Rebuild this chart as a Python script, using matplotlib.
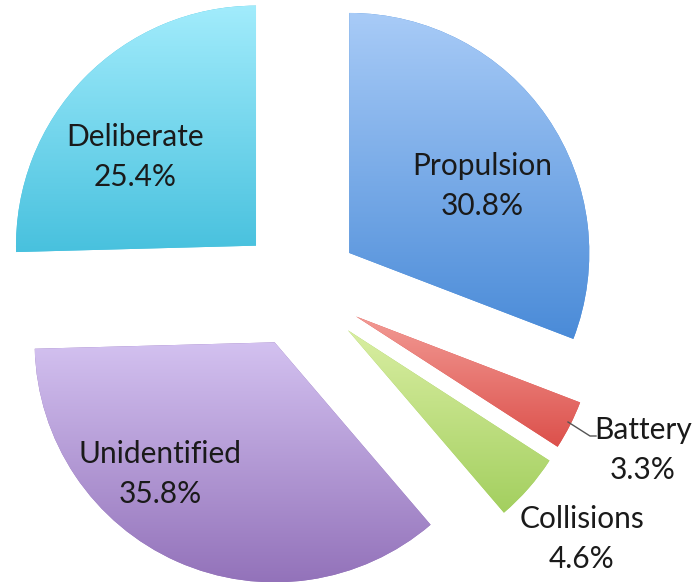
import matplotlib
matplotlib.use("Agg")
import matplotlib.pyplot as plt
import numpy as np
from matplotlib.colors import LinearSegmentedColormap

# ---- data ----
categories = ["Propulsion", "Battery", "Collisions", "Unidentified", "Deliberate"]
values = [30.8, 3.3, 4.6, 35.8, 25.4]
pct_labels = ["30.8%", "3.3%", "4.6%", "35.8%", "25.4%"]

# ---- style ----
top_colors = ["#a8cbf7", "#f29a94", "#d9eea2", "#d3c1f0", "#a2ecfc"]
bot_colors = ["#4a8bd8", "#dc504b", "#a3cf5f", "#9271b9", "#48c1de"]
explode = [61, 64, 65, 60, 60]          # pixels (data units)
label_pos = [(482, 186), (643, 450), (582, 539), (160, 474), (135, 157)]
FONT = ["Lato", "DejaVu Sans"]
FS = 21.5

W, H = 696, 582
fig = plt.figure(figsize=(W / 100, H / 100), dpi=100)
ax = fig.add_axes([0, 0, 1, 1])

wedges, _ = ax.pie(values, explode=explode, radius=240, center=(299, H - 287.5),
                   startangle=90, counterclock=False, colors=bot_colors,
                   wedgeprops=dict(linewidth=0))

grad = np.linspace(0, 1, 256).reshape(-1, 1)
for w, tc, bc in zip(wedges, top_colors, bot_colors):
    v = w.get_path().vertices
    x0, y0 = v.min(axis=0)
    x1, y1 = v.max(axis=0)
    cmap = LinearSegmentedColormap.from_list("g", [bc, tc])
    im = ax.imshow(grad, extent=(x0, x1, y0, y1), origin="lower", cmap=cmap,
                   aspect="auto", interpolation="bilinear", zorder=2)
    im.set_clip_path(w)

for (x, y), cat, p in zip(label_pos, categories, pct_labels):
    ax.text(x, H - y, cat + "\n" + p, ha="center", va="center", fontsize=FS,
            family=FONT, color="#1a1a1a", linespacing=1.5, zorder=5)

# leader line for Battery
ax.plot([568, 590, 596], [H - 422, H - 436, H - 436], color="#555555", lw=1.0, zorder=4)

ax.set_xlim(0, W)
ax.set_ylim(0, H)
ax.set_aspect("equal")
ax.axis("off")
fig.savefig("out.png", dpi=100, facecolor="white")
